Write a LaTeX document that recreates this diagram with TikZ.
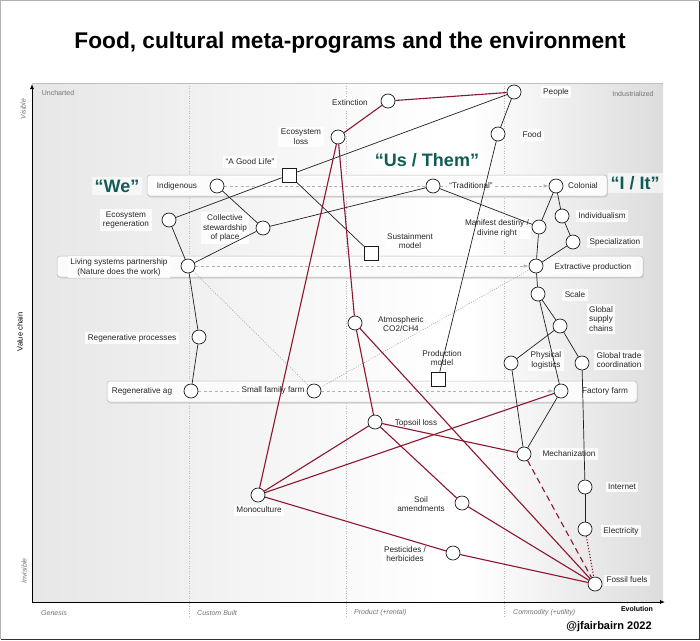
\documentclass[tikz,border=0pt]{standalone}
\usepackage{fontspec}
\setmainfont{Liberation Sans}
\usetikzlibrary{arrows.meta}
\definecolor{wred}{RGB}{139,22,45}
\definecolor{tealq}{RGB}{18,92,86}
\pgfdeclarelayer{bg}
\pgfdeclarelayer{bands}
\pgfdeclarelayer{lbl}
\pgfdeclarelayer{edges}
\pgfsetlayers{bg,bands,lbl,edges,main}
\tikzset{
  circ/.style={circle, draw=gray!20!black, fill=white, line width=0.7pt, minimum size=14pt, inner sep=0pt},
  sq/.style={rectangle, draw=gray!20!black, fill=white, line width=0.7pt, minimum size=14pt, inner sep=0pt},
  lab/.style={fill=white, fill opacity=0.85, text opacity=1, inner sep=2.5pt, font=\fontsize{8.2}{9.8}\selectfont, align=center, text=black!85},
  bandbox/.style={draw=gray!55, fill=white, fill opacity=0.92, rounded corners=3pt, line width=0.5pt, inner sep=0pt},
  blk/.style={draw=gray!25!black, line width=0.7pt},
  rline/.style={draw=wred, line width=1.1pt},
  gdash/.style={draw=gray!60, dash pattern=on 3pt off 2.5pt, line width=0.6pt},
  garr/.style={gdash, -{Latex[length=5pt,width=3.5pt]}},
  gdot/.style={draw=gray!75, dash pattern=on 0.8pt off 1.6pt, line width=0.7pt},
  bigq/.style={font=\fontsize{18}{20}\selectfont\bfseries, text=tealq, fill=white, fill opacity=0.6, text opacity=1, inner sep=3pt},
  axl/.style={font=\fontsize{7}{8}\selectfont\itshape, text=black!55, inner sep=0pt},
}
\begin{document}
\begin{tikzpicture}[x=1pt,y=-1pt]
\useasboundingbox (0,0) rectangle (700,640);
\begin{pgfonlayer}{bg}
  \fill[white] (0,0) rectangle (700,640);
  \fill[left color=gray!19, right color=white] (32,83) rectangle (440,602);
  \fill[white] (439,83) rectangle (471,602);
  \fill[left color=white, right color=gray!27] (470,83) rectangle (663,602);
  \draw[gray!60, line width=1.2pt] (0.6,639.4) -- (0.6,0.6) -- (699.4,0.6);
  \draw[black!80, line width=1.2pt] (699.4,0.6) -- (699.4,639.4) -- (0.6,639.4);
  \draw[gray!50, line width=0.4pt] (32,83) -- (663,83);
  \draw[gray!55, dotted, line width=0.5pt] (189,83) -- (189,618);
  \draw[gray!55, dotted, line width=0.5pt] (346,83) -- (346,618);
  \draw[gray!55, dotted, line width=0.5pt] (504,83) -- (504,618);
  \draw[black, line width=0.8pt, -{Latex[length=5pt,width=4pt]}] (32,602) -- (32,84);
  \draw[black, line width=0.8pt, -{Latex[length=5pt,width=4pt]}] (32,602) -- (665,602);
\end{pgfonlayer}

% title and axis texts
\node[font=\fontsize{22.7}{26}\selectfont\bfseries] (title) at (350,43) {Food, cultural meta-programs and the environment};
\node[axl, font=\fontsize{7}{8}\selectfont] (unch) at (58,93) {Uncharted};
\node[axl, font=\fontsize{7}{8}\selectfont] (indu) at (633,94) {Industrialized};
\node[axl, rotate=90] (vis) at (23,109) {Visible};
\node[axl, rotate=90] (invis) at (24,571) {Invisible};
\node[font=\fontsize{7.5}{9}\selectfont, rotate=90, inner sep=0pt] (vchain) at (20,332) {Value chain};
\node[axl, anchor=west] (gen) at (41,613) {Genesis};
\node[axl, anchor=west] (cust) at (197,613) {Custom Built};
\node[axl, anchor=west] (prod) at (354,613) {Product (+rental)};
\node[axl, anchor=west] (comm) at (513,613) {Commodity (+utility)};
\node[font=\fontsize{7}{8}\selectfont\bfseries, inner sep=0pt] (evol) at (637,609) {Evolution};
\node[font=\fontsize{11}{13}\selectfont\bfseries, inner sep=0pt] (auth) at (609,627) {@jfairbairn 2022};

% bands
\begin{pgfonlayer}{bands}
  \fill[gray!35, rounded corners=3pt] (148,177) rectangle (608,197.5);
  \fill[gray!35, rounded corners=3pt] (58,258) rectangle (644,278.5);
  \fill[gray!35, rounded corners=3pt] (108,383) rectangle (638,403.5);
  \node[bandbox, minimum width=460pt, minimum height=21pt] (bandA) at (377,185.5) {};
  \node[bandbox, minimum width=586pt, minimum height=21pt] (bandB) at (350,266.5) {};
  \node[bandbox, minimum width=530pt, minimum height=21pt] (bandC) at (372,391.5) {};
\end{pgfonlayer}

% nodes
\node[circ] (ext) at (388,101) {};
\node[circ] (people) at (514,92) {};
\node[circ] (food) at (498,134) {};
\node[circ] (ecoloss) at (338,137) {};
\node[sq] (agl) at (289,175) {};
\node[circ] (indig) at (217,186) {};
\node[circ] (trad) at (433,186) {};
\node[circ] (colon) at (556,186) {};
\node[circ] (ecoreg) at (169,220) {};
\node[circ] (coll) at (263,228) {};
\node[circ] (manif) at (539,227) {};
\node[circ] (indiv) at (562,216) {};
\node[circ] (spec) at (573,242) {};
\node[sq] (sust) at (371,253) {};
\node[circ] (living) at (188,266) {};
\node[circ] (extr) at (536,266) {};
\node[circ] (scale) at (538,294) {};
\node[circ] (atmos) at (355,323) {};
\node[circ] (gsc) at (560,326) {};
\node[circ] (regproc) at (199,337) {};
\node[circ] (phys) at (511,363) {};
\node[circ] (gtc) at (582,363) {};
\node[sq] (prodm) at (438,379) {};
\node[circ] (regag) at (191,391) {};
\node[circ] (sff) at (314,391) {};
\node[circ] (ff) at (561,391) {};
\node[circ] (topsoil) at (375,422) {};
\node[circ] (mech) at (524,454) {};
\node[circ] (internet) at (585,487) {};
\node[circ] (mono) at (258,495) {};
\node[circ] (soil) at (462,503) {};
\node[circ] (elec) at (585,529) {};
\node[circ] (pest) at (453,553) {};
\node[circ] (fossil) at (595,584) {};

% labels
\begin{pgfonlayer}{lbl}
  \node[lab] (l-ext) at (350,103) {Extinction};
  \node[lab] (l-people) at (556,92) {People};
  \node[lab] (l-food) at (532,135) {Food};
  \node[lab] (l-ecoloss) at (301,137) {Ecosystem\\loss};
  \node[lab] (l-agl) at (250,162) {“A Good Life”};
  \node[lab] (l-indig) at (177,186) {Indigenous};
  \node[lab] (l-trad) at (471,186) {“Traditional”};
  \node[lab] (l-colon) at (583,186) {Colonial};
  \node[lab] (l-ecoreg) at (126,220) {Ecosystem\\regeneration};
  \node[lab] (l-coll) at (225,228) {Collective\\stewardship\\of place};
  \node[lab] (l-manif) at (497,228) {Manifest destiny /\\divine right};
  \node[lab] (l-indiv) at (602,216) {Individualism};
  \node[lab] (l-spec) at (615,242) {Specialization};
  \node[lab] (l-sust) at (410,241) {Sustainment\\model};
  \node[lab] (l-living) at (119,267) {Living systems partnership\\(Nature does the work)};
  \node[lab] (l-extr) at (593,267) {Extractive production};
  \node[lab] (l-scale) at (575,295) {Scale};
  \node[lab] (l-atmos) at (401,324) {Atmospheric\\CO2/CH4};
  \node[lab] (l-gsc) at (601,319) {Global\\supply\\chains};
  \node[lab] (l-regproc) at (132,338) {Regenerative processes};
  \node[lab] (l-prodm) at (442,358) {Production\\model};
  \node[lab] (l-phys) at (546,360) {Physical\\logistics};
  \node[lab] (l-gtc) at (619,360) {Global trade\\coordination};
  \node[lab] (l-regag) at (142,391) {Regenerative ag};
  \node[lab] (l-sff) at (273,390) {Small family farm};
  \node[lab] (l-ff) at (605,391) {Factory farm};
  \node[lab] (l-topsoil) at (416,423) {Topsoil loss};
  \node[lab] (l-mech) at (569,454) {Mechanization};
  \node[lab] (l-internet) at (622,487) {Internet};
  \node[lab] (l-mono) at (259,510) {Monoculture};
  \node[lab] (l-soil) at (421,504) {Soil\\amendments};
  \node[lab] (l-elec) at (621,531) {Electricity};
  \node[lab] (l-pest) at (405,554) {Pesticides /\\herbicides};
  \node[lab] (l-fossil) at (627,580) {Fossil fuels};
  \node[bigq] (we) at (117,186) {“We”};
  \node[bigq] (usthem) at (427,160) {“Us / Them”};
  \node[bigq] (iit) at (635,183) {“I / It”};
\end{pgfonlayer}

% in-band flows
\begin{pgfonlayer}{bands}
  \draw[gdash] (indig) -- (trad);
  \draw[garr] (trad) -- (colon);
  \draw[garr] (living) -- (extr);
  \draw[gdash] (regag) -- (sff);
  \draw[garr] (sff) -- (ff);
\end{pgfonlayer}

% connectors
\begin{pgfonlayer}{edges}
  \draw[gdot] (living) -- (sff);
  \draw[gdot] (sff) -- (extr);
  \draw[blk] (people) -- (food);
  \draw[blk] (food) -- (prodm);
  \draw[blk] (people) -- (agl);
  \draw[blk] (agl) -- (ecoreg);
  \draw[blk] (agl) -- (sust);
  \draw[blk] (indig) -- (coll);
  \draw[blk] (coll) -- (trad);
  \draw[blk] (coll) -- (living);
  \draw[blk] (ecoreg) -- (living);
  \draw[blk] (living) -- (regproc);
  \draw[blk] (regproc) -- (regag);
  \draw[blk] (trad) -- (manif);
  \draw[blk] (colon) -- (manif);
  \draw[blk] (colon) -- (indiv);
  \draw[blk] (indiv) -- (spec);
  \draw[blk] (spec) -- (extr);
  \draw[blk] (manif) -- (extr);
  \draw[blk] (extr) -- (scale);
  \draw[blk] (scale) -- (gsc);
  \draw[blk] (scale) -- (ff);
  \draw[blk] (gsc) -- (phys);
  \draw[blk] (gsc) -- (gtc);
  \draw[blk] (phys) -- (mech);
  \draw[blk] (ff) -- (mech);
  \draw[blk] (gtc) -- (internet);
  \draw[blk] (internet) -- (elec);
  \draw[rline] (ext) -- (people);
  \draw[rline] (ext) -- (ecoloss);
  \draw[rline] (ecoloss) -- (mono);
  \draw[rline] (ecoloss) -- (atmos);
  \draw[rline] (atmos) -- (topsoil);
  \draw[rline] (atmos) -- (fossil);
  \draw[rline] (topsoil) -- (mech);
  \draw[rline] (topsoil) -- (soil);
  \draw[rline] (topsoil) -- (mono);
  \draw[rline] (mono) -- (ff);
  \draw[rline] (mono) -- (pest);
  \draw[rline] (pest) -- (fossil);
  \draw[rline] (soil) -- (fossil);
  \draw[rline, dash pattern=on 6pt off 4pt] (mech) -- (fossil);
  \draw[rline, dash pattern=on 1.2pt off 1.8pt] (elec) -- (fossil);
\end{pgfonlayer}
\end{tikzpicture}
\end{document}
